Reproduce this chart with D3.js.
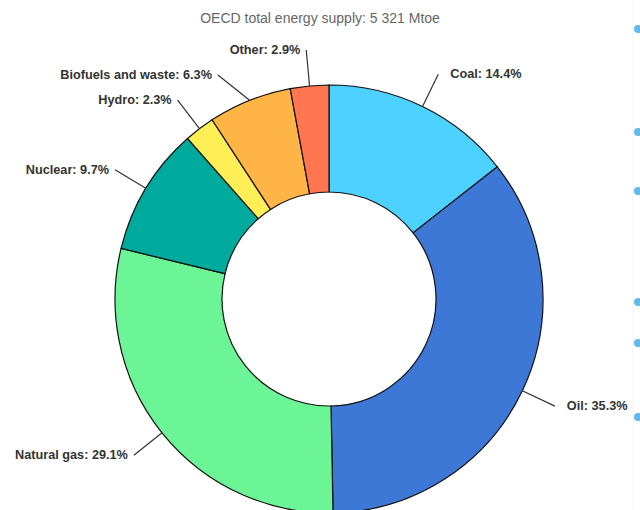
<html>

<head>
    <script src="https://d3js.org/d3.v7.min.js"></script>
    <style>
        body { margin: 0; background: white; }
    </style>
</head>

<body>
    <svg id="donut" height="510" width="640"></svg>
    <script>

        // OECD total energy supply shares, clockwise from 12 o'clock
        const sources = ["Coal", "Oil", "Natural gas", "Nuclear", "Hydro", "Biofuels and waste", "Other"]
        const shares = [14.4, 35.3, 29.1, 9.7, 2.3, 6.3, 2.9]
        const colors = ["#4dd2ff", "#3d78d6", "#6bf596", "#00aa9d", "#ffee55", "#ffb545", "#ff7650"]
        const title = "OECD total energy supply: 5 321 Mtoe"

        // bits of a neighbouring widget showing at the right edge
        const edgeDots = [29, 132, 191, 302, 343, 417]

        const svg = d3.select("#donut")
        const width = +svg.attr("width")

        const cx = 329, cy = 299
        const outer = 214, inner = 107, labelR = 250, minGap = 25

        svg.append("text")
            .attr("x", width / 2)
            .attr("y", 23)
            .attr("text-anchor", "middle")
            .style("font-family", "Liberation Sans, Arial, sans-serif")
            .style("font-size", "14px")
            .style("fill", "#666")
            .text(title)

        const data = sources.map((s, i) => ({ name: s, value: shares[i], color: colors[i] }))

        const pie = d3.pie().value(d => d.value).sort(null)
        const arc = d3.arc().innerRadius(inner).outerRadius(outer)
        const arcs = pie(data)

        const g = svg.append("g").attr("transform", `translate(${cx},${cy})`)

        g.selectAll("path.slice").data(arcs)
            .join("path")
            .attr("class", "slice")
            .attr("d", arc)
            .style("fill", d => d.data.color)
            .style("stroke", "#111")
            .style("stroke-width", 1.2)

        const point = (a, r) => [r * Math.sin(a), -r * Math.cos(a)]
        const mid = d => (d.startAngle + d.endAngle) / 2

        // label anchors: radial first, then pushed apart vertically per side
        arcs.forEach(d => {
            d.right = mid(d) < Math.PI
            const p = point(mid(d), labelR)
            d.lx = p[0]
            d.ly = p[1]
        })
        for (const side of [true, false]) {
            const group = arcs.filter(d => d.right === side).sort((a, b) => a.ly - b.ly)
            for (let i = 1; i < group.length; i++) {
                const prev = group[i - 1], cur = group[i]
                if (cur.ly - prev.ly < minGap) {
                    cur.ly = prev.ly + minGap
                    const dx = Math.sqrt(Math.max(0, labelR * labelR - cur.ly * cur.ly))
                    cur.lx = side ? dx : -dx
                }
            }
        }

        g.selectAll("line.leader").data(arcs)
            .join("line")
            .attr("class", "leader")
            .attr("x1", d => point(mid(d), outer)[0])
            .attr("y1", d => point(mid(d), outer)[1])
            .attr("x2", d => d.lx)
            .attr("y2", d => d.ly)
            .style("stroke", "#333")
            .style("stroke-width", 1.2)

        g.selectAll("text.label").data(arcs)
            .join("text")
            .attr("class", "label")
            .attr("x", d => d.right ? d.lx + 12 : d.lx - 6)
            .attr("y", d => d.ly + 4)
            .attr("text-anchor", d => d.right ? "start" : "end")
            .style("font-family", "Liberation Sans, Arial, sans-serif")
            .style("font-size", "12.7px")
            .style("font-weight", "bold")
            .style("fill", "#333")
            .text(d => `${d.data.name}: ${d.data.value}%`)

        svg.append("line")
            .attr("x1", 633).attr("x2", 633)
            .attr("y1", 0).attr("y2", 510)
            .style("stroke", "#f2f4f6")

        svg.selectAll("circle.edge").data(edgeDots)
            .join("circle")
            .attr("class", "edge")
            .attr("cx", 638)
            .attr("cy", d => d)
            .attr("r", 4)
            .style("fill", "#64b9e8")

    </script>
</body>

</html>
